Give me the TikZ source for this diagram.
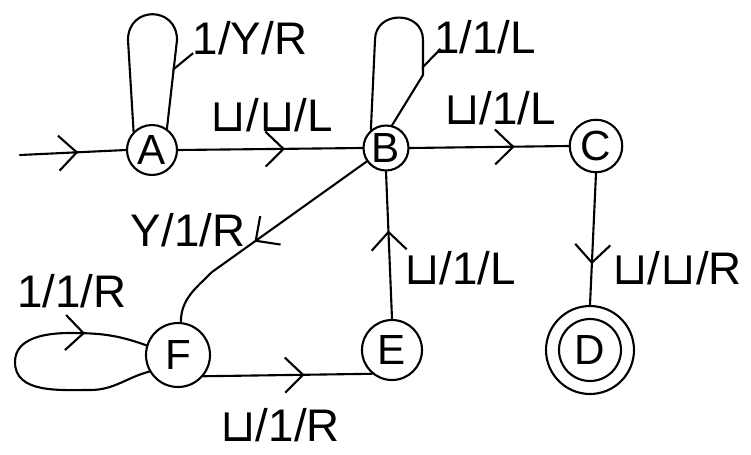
\documentclass[tikz,border=0pt]{standalone}
\usepackage{fontspec}
\setmainfont{Liberation Sans}
\newfontfamily\symf{DejaVu Sans}
\usetikzlibrary{arrows.meta,decorations.markings}
\newcommand{\blanksym}{{\symf ⊔}}

\begin{document}
\begin{tikzpicture}[x=0.02cm,y=-0.02cm, line width=1.2pt, line cap=round, line join=round,
  state/.style={circle,draw,inner sep=0pt,font=\fontsize{24}{26}\selectfont},
  lbl/.style={font=\fontsize{26}{28}\selectfont, inner sep=0pt},
  midarrow/.style={postaction={decorate}, decoration={markings,
     mark=at position #1 with {\arrow{Straight Barb[length=3.6mm,width=7mm,line width=1.2pt]}}}},
  halfarrow/.style={postaction={decorate}, decoration={markings,
     mark=at position #1 with {\arrow{Straight Barb[length=3.6mm,width=7mm,harpoon,line width=1.2pt]}}}}]
\useasboundingbox (0,0) rectangle (751,454);

% states
\node[state,minimum size=1cm]    (A) at (152,150) {A};
\node[state,minimum size=0.9cm]  (B) at (386,148) {B};
\node[state,minimum size=1.05cm] (C) at (596,146) {C};
\node[state,minimum size=1.24cm] (D) at (590,350) {D};
\node[circle,draw,inner sep=0pt,minimum size=1.76cm] (Dout) at (590,350) {};
\node[state,minimum size=1.2cm]  (E) at (392,350) {E};
\node[state,minimum size=1.28cm] (F) at (178,355) {F};

% initial arrow
\coordinate (start) at (20,155);
\draw[midarrow=0.55] (start) -- (A.west);

% self loops
\draw[halfarrow=0.78] (A.135) -- (128,40) to[out=90,in=90,looseness=1.8] (177,40) -- (A.55);
\draw[halfarrow=0.75] (B.130) -- (375,40) to[out=90,in=90,looseness=1.6] (423,40) -- (423,75) -- (B.75);
\draw[midarrow=0.79] (F.210) to[out=195,in=0] (90,390) to[out=180,in=270] (15,362)
   to[out=90,in=180] (70,333) to[out=0,in=160] (F.163);

% transitions
\draw[midarrow=0.58] (A.east) -- (B.west);
\draw[midarrow=0.66] (B.east) -- (C.west);
\draw[midarrow=0.69] (C.south) -- (Dout.north);
\draw[midarrow=0.6]  (E.north) -- (B.south);
\draw[midarrow=0.55] (B.215) -- (212,272) to[out=225,in=90] (F.85);
\draw[midarrow=0.6]  (F.-40) -- (E.230);

% labels
\node[lbl] (lA)  at (250,38)  {1/Y/R};
\node[lbl] (lB)  at (485,37)  {1/1/L};
\node[lbl] (lAB) at (272,115) {\blanksym/\blanksym/L};
\node[lbl] (lBC) at (500,108) {\blanksym/1/L};
\node[lbl] (lBF) at (188,230) {Y/1/R};
\node[lbl] (lEB) at (460,268) {\blanksym/1/L};
\node[lbl] (lCD) at (677,268) {\blanksym/\blanksym/R};
\node[lbl] (lF)  at (72,291)  {1/1/R};
\node[lbl] (lFE) at (280,425) {\blanksym/1/R};
\end{tikzpicture}
\end{document}
